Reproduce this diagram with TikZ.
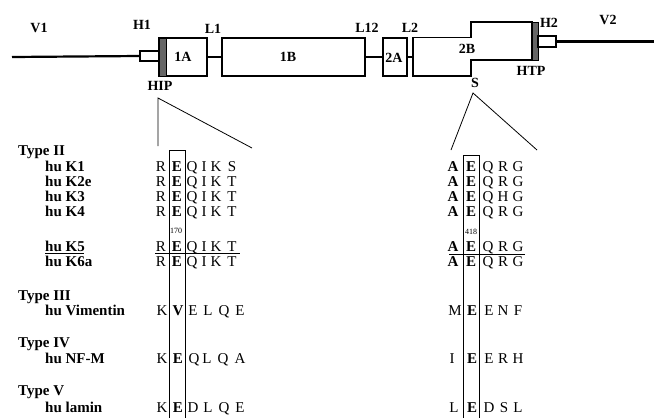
\documentclass[tikz,border=0pt]{standalone}
\usepackage{fontspec}
\setmainfont{Liberation Serif}
\begin{document}
\begin{tikzpicture}[x=1pt,y=-1pt,
  lbl/.style={font=\fontsize{14pt}{16pt}\selectfont\bfseries,inner sep=0pt,anchor=center},
  rowlbl/.style={font=\fontsize{15pt}{16pt}\selectfont\bfseries,inner sep=0pt,anchor=base west},
  aa/.style={font=\fontsize{15pt}{16pt}\selectfont,inner sep=0pt,anchor=base},
  bb/.style={font=\fontsize{15pt}{16pt}\selectfont\bfseries,inner sep=0pt,anchor=base},
  num/.style={font=\fontsize{8pt}{9pt}\selectfont,inner sep=0pt,anchor=center},
  dom/.style={draw,line width=1.3pt,inner sep=0pt,rectangle},
  link/.style={line width=2.2pt},
  thin/.style={line width=0.8pt},
  bar/.style={draw,line width=1pt,fill=black!60}]
\useasboundingbox (0,0) rectangle (654,418);

% ---------------- top domain diagram ----------------
\coordinate (v1s) at (12,57);
\node[dom,minimum width=19pt,minimum height=10pt] (h1) at (149.5,56) {};
\draw[link] (v1s) -- (h1.west);
\node[dom,minimum width=48pt,minimum height=38pt] (d1A) at (183,57) {};
\node[bar,minimum width=7pt,minimum height=38pt,inner sep=0pt] (hip) at (162.5,57) {};
\node[dom,minimum width=143pt,minimum height=38pt] (d1B) at (293.5,57) {};
\node[dom,minimum width=24pt,minimum height=38pt] (d2A) at (395,57) {};
\draw[link] (d1A.east) -- (d1B.west);
\draw[link] (d1B.east) -- (d2A.west);
\coordinate (b2l) at (413,57);
\draw[link] (d2A.east) -- (b2l);
\draw[line width=1.3pt] (413,37.5) -- (471,37.5) -- (471,22) -- (532,22) -- (532,60) -- (471,60) -- (471,76) -- (413,76) -- cycle;
\node[bar,minimum width=6pt,minimum height=38pt,inner sep=0pt] (htp) at (535,41) {};
\node[dom,minimum width=18pt,minimum height=11pt] (h2) at (547,41.5) {};
\coordinate (v2e) at (654,41.5);
\draw[link] (h2.east) -- (v2e);

\node[lbl] (tV1) at (39,28) {V1};
\node[lbl] (tH1) at (142,25) {H1};
\node[lbl] (tL1) at (213,29) {L1};
\node[lbl] (tHIP) at (160,86) {HIP};
\node[lbl] (t1A) at (183,57) {1A};
\node[lbl] (t1B) at (288,57) {1B};
\node[lbl] (tL12) at (367,28) {L12};
\node[lbl] (t2A) at (394,58) {2A};
\node[lbl] (tL2) at (410,28) {L2};
\node[lbl] (t2B) at (467,49) {2B};
\node[lbl] (tS) at (475,83) {S};
\node[lbl] (tHTP) at (531,71) {HTP};
\node[lbl] (tH2) at (549,23) {H2};
\node[lbl] (tV2) at (608,20) {V2};

% expansion lines
\coordinate (hipA) at (158,98);
\coordinate (hipL) at (158,146);
\coordinate (hipR) at (252,148);
\draw[thin] (hipL) -- (hipA) -- (hipR);
\coordinate (sA) at (473,93);
\coordinate (sL) at (451,150);
\coordinate (sR) at (537,150);
\draw[thin] (sL) -- (sA) -- (sR);

% ---------------- alignment boxes ----------------
\draw[thin] (169,418) -- (169,150) -- (185,150) -- (185,418);
\draw[thin] (463,418) -- (463,155) -- (479,155) -- (479,418);

% separators
\draw[thin] (45,253) -- (84,253);
\draw[thin] (155,253) -- (240,253);
\draw[thin] (449,254) -- (525,254);

% ---------------- row labels ----------------
\node[rowlbl] (rII) at (18,155) {Type II};
\node[rowlbl] (rK1) at (45,171) {hu K1};
\node[rowlbl] (rK2) at (45,186) {hu K2e};
\node[rowlbl] (rK3) at (45,201) {hu K3};
\node[rowlbl] (rK4) at (45,216) {hu K4};
\node[rowlbl] (rK5) at (45,251) {hu K5};
\node[rowlbl] (rK6) at (45,266) {hu K6a};
\node[rowlbl] (rIII) at (18,300) {Type III};
\node[rowlbl] (rVim) at (45,315) {hu Vimentin};
\node[rowlbl] (rIV) at (18,347) {Type IV};
\node[rowlbl] (rNF) at (45,363) {hu NF-M};
\node[rowlbl] (rV) at (18,395) {Type V};
\node[rowlbl] (rLam) at (45,412) {hu lamin};

\node[num] (n170) at (176,231) {170};
\node[num] (n418) at (471,232) {418};

% ---------------- sequences ----------------
% left block: type II
\foreach \y/\last in {171/S,186/T,201/T,216/T,251/T,266/T}{
  \node[aa] at (161,\y) {R};
  \node[bb] at (177,\y) {E};
  \node[aa] at (192,\y) {Q};
  \node[aa] at (204,\y) {I};
  \node[aa] at (216,\y) {K};
  \node[aa] at (232,\y) {\last};
}
% right block: type II
\foreach \y/\m in {171/R,186/R,201/H,216/R,251/R,266/R}{
  \node[bb] at (453,\y) {A};
  \node[bb] at (471,\y) {E};
  \node[aa] at (488,\y) {Q};
  \node[aa] at (503,\y) {\m};
  \node[aa] at (518,\y) {G};
}
% type III
\node[aa] at (162,315) {K};
\node[bb] at (178,315) {V};
\node[aa] at (193,315) {E};
\node[aa] at (208,315) {L};
\node[aa] at (224,315) {Q};
\node[aa] at (240,315) {E};
\node[aa] at (455,315) {M};
\node[bb] at (472,315) {E};
\node[aa] at (489,315) {E};
\node[aa] at (503,315) {N};
\node[aa] at (518,315) {F};
% type IV
\node[aa] at (162,363) {K};
\node[bb] at (178,363) {E};
\node[aa] at (194,363) {Q};
\node[aa] at (207,363) {L};
\node[aa] at (223,363) {Q};
\node[aa] at (240,363) {A};
\node[aa] at (452,363) {I};
\node[bb] at (472,363) {E};
\node[aa] at (489,363) {E};
\node[aa] at (503,363) {R};
\node[aa] at (518,363) {H};
% type V
\node[aa] at (162,412) {K};
\node[bb] at (178,412) {E};
\node[aa] at (193,412) {D};
\node[aa] at (208,412) {L};
\node[aa] at (224,412) {Q};
\node[aa] at (240,412) {E};
\node[aa] at (454,412) {L};
\node[bb] at (472,412) {E};
\node[aa] at (489,412) {D};
\node[aa] at (504,412) {S};
\node[aa] at (518,412) {L};
\end{tikzpicture}
\end{document}
